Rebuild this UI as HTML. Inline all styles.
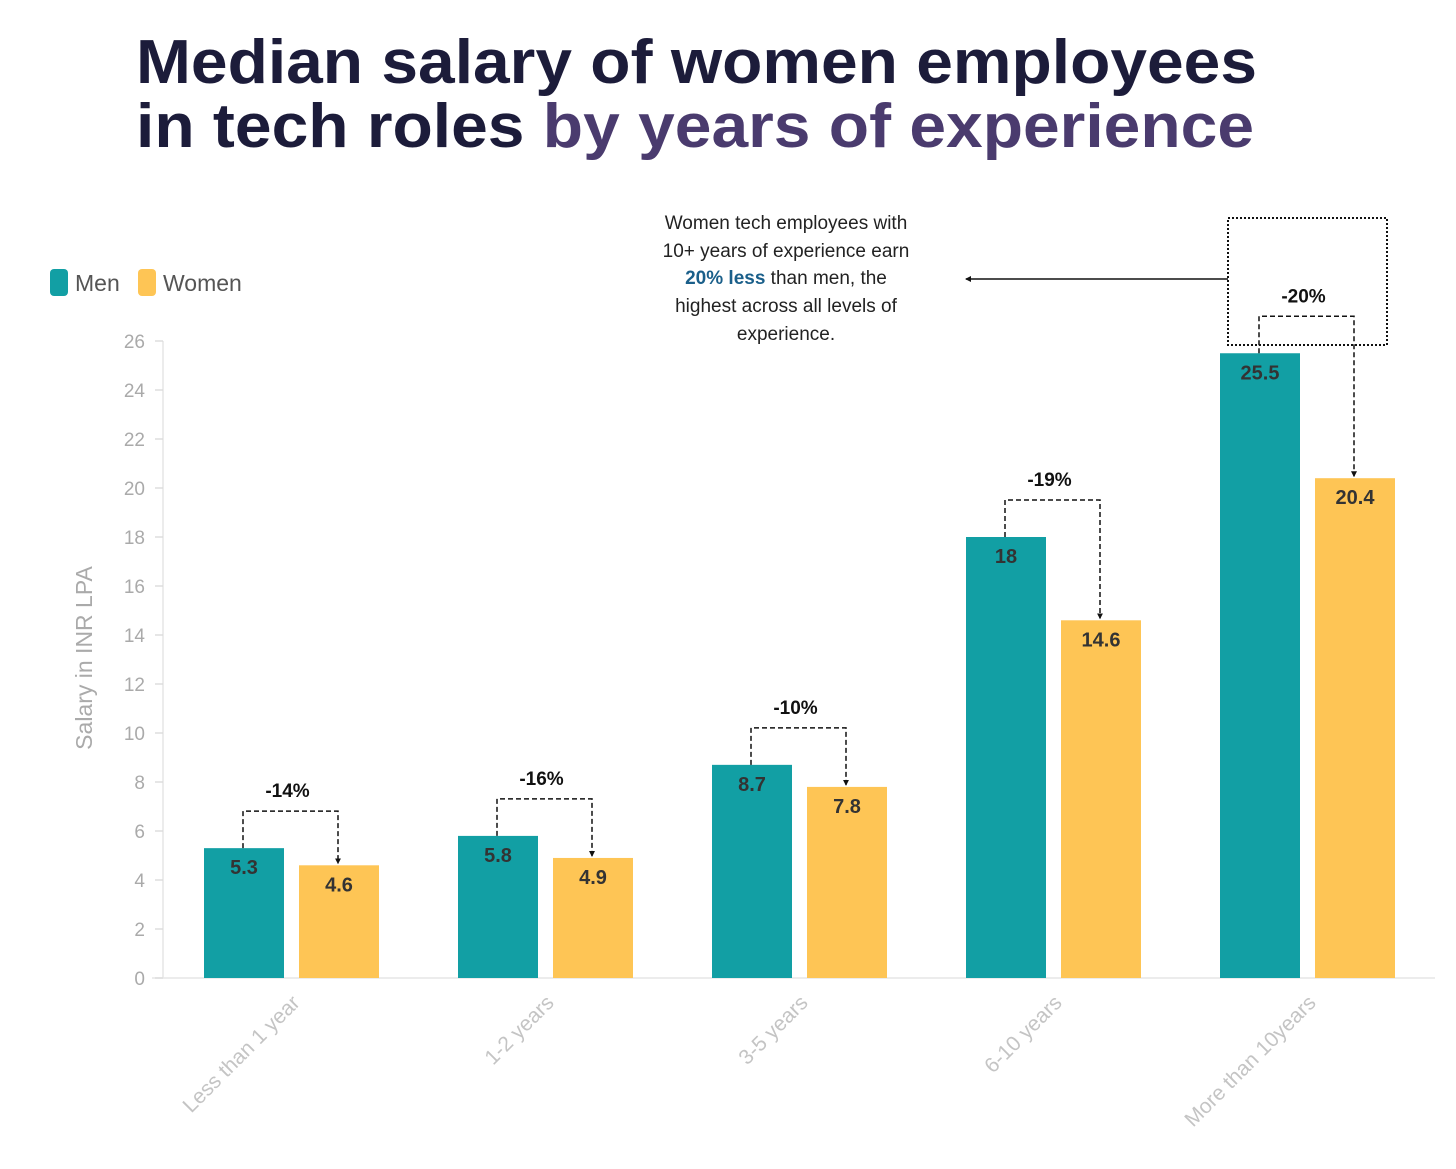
<!DOCTYPE html>
<html><head><meta charset="utf-8"><style>
body{margin:0;background:#fff;}
svg{display:block;font-family:"Liberation Sans",sans-serif;}
</style></head><body>
<svg id="chart" width="1456" height="1169" viewBox="0 0 1456 1169" xmlns="http://www.w3.org/2000/svg">
<defs>
<marker id="arr" markerWidth="6" markerHeight="6" refX="5" refY="3" orient="auto" markerUnits="userSpaceOnUse"><path d="M0,0 L6,3 L0,6 Z" fill="#111"/></marker>
</defs>
<text x="136" y="83" font-size="62" font-weight="bold" fill="#1c1c3a" textLength="1121" lengthAdjust="spacingAndGlyphs">Median salary of women employees</text>
<text x="136" y="147" font-size="62" font-weight="bold" fill="#1c1c3a" textLength="1118" lengthAdjust="spacingAndGlyphs">in tech roles <tspan fill="#4a3b6e">by years of experience</tspan></text>
<g>
<rect x="50" y="269" width="18" height="27" rx="4" fill="#129fa4"/>
<text x="75" y="291" font-size="23" fill="#555">Men</text>
<rect x="138" y="269" width="18" height="27" rx="4" fill="#fec555"/>
<text x="163" y="291" font-size="23" fill="#555">Women</text>
</g>
<g font-size="19" fill="#222" text-anchor="middle">
<text x="786" y="229">Women tech employees with</text>
<text x="786" y="257">10+ years of experience earn</text>
<text x="786" y="284"><tspan fill="#1a5f8a" font-weight="bold">20% less</tspan> than men, the</text>
<text x="786" y="312">highest across all levels of</text>
<text x="786" y="340">experience.</text>
</g>
<line x1="1228" y1="279" x2="966" y2="279" stroke="#111" stroke-width="1.5" marker-end="url(#arr)"/>
<rect x="1228" y="218" width="159" height="127" fill="none" stroke="#111" stroke-width="2" stroke-dasharray="2,2"/>
<text transform="translate(92,658) rotate(-90)" text-anchor="middle" font-size="23" fill="#aaa">Salary in INR LPA</text>
<g id="g"></g>
</svg>
<script>
const categories = ["Less than 1 year","1-2 years","3-5 years","6-10 years","More than 10years"];
const menValues = [5.3,5.8,8.7,18,25.5];
const womenValues = [4.6,4.9,7.8,14.6,20.4];
const gapLabels = ["-14%","-16%","-10%","-19%","-20%"];
const yTicks = [0,2,4,6,8,10,12,14,16,18,20,22,24,26];
const NS="http://www.w3.org/2000/svg";
const g=document.getElementById('g');
const y0=978, yTop=341, yMax=26;
const y=v=>y0-(v/yMax)*(y0-yTop);
const bandStart=164, bandW=254;
const bx=i=>bandStart+i*bandW;
function el(t,a,txt){const e=document.createElementNS(NS,t);for(const k in a)e.setAttribute(k,a[k]);if(txt!=null)e.textContent=txt;g.appendChild(e);return e;}
const ax=el('line',{x1:163,y1:yTop,x2:163,y2:y0,stroke:'#e6e6e6','stroke-width':1.5});


const xl=el('line',{x1:152,y1:y0,x2:1435,y2:y0,stroke:'#e6e6e6','stroke-width':1.5});


yTicks.forEach(t=>{
  const tk=el('line',{x1:155,y1:y(t),x2:163,y2:y(t),stroke:'#ddd','stroke-width':1.5});
  
  
  const tl=el('text',{x:145,y:y(t)+7,'text-anchor':'end','font-size':19,fill:'#aaa'},t);
  
  
});
categories.forEach((c,i)=>{
  const mx=bx(i)+40, wx=bx(i)+135, w=80;
  const mb=el('rect',{x:mx,y:y(menValues[i]),width:w,height:y0-y(menValues[i]),fill:'#129fa4'});
  
  
  const wb=el('rect',{x:wx,y:y(womenValues[i]),width:w,height:y0-y(womenValues[i]),fill:'#fec555'});
  
  
  const ml=el('text',{x:mx+w/2,y:y(menValues[i])+26,'text-anchor':'middle','font-size':20,'font-weight':'bold',fill:'#333'},menValues[i]);
  
  
  const wl=el('text',{x:wx+w/2,y:y(womenValues[i])+26,'text-anchor':'middle','font-size':20,'font-weight':'bold',fill:'#333'},womenValues[i]);
  
  
  const lv=y(menValues[i])-37, mc=mx+w/2-1, wc=wx+w/2-1;
  const br=el('path',{d:`M${mc},${y(menValues[i])} V${lv} H${wc} V${y(womenValues[i])-2}`,fill:'none',stroke:'#111','stroke-width':1.5,'stroke-dasharray':'5,3','marker-end':'url(#arr)'});
  
  
  const gl=el('text',{x:(mc+wc)/2-3,y:lv-14,'text-anchor':'middle','font-size':19,'font-weight':'bold',fill:'#111'},gapLabels[i]);
  
  
  const cx=bx(i)+127+10;
  const xlb=el('text',{x:cx,y:1004,'text-anchor':'end','font-size':21,fill:'#c4c4c4',transform:`rotate(-45 ${cx} 1004)`},c);
  
  
});
</script>
</body></html>
